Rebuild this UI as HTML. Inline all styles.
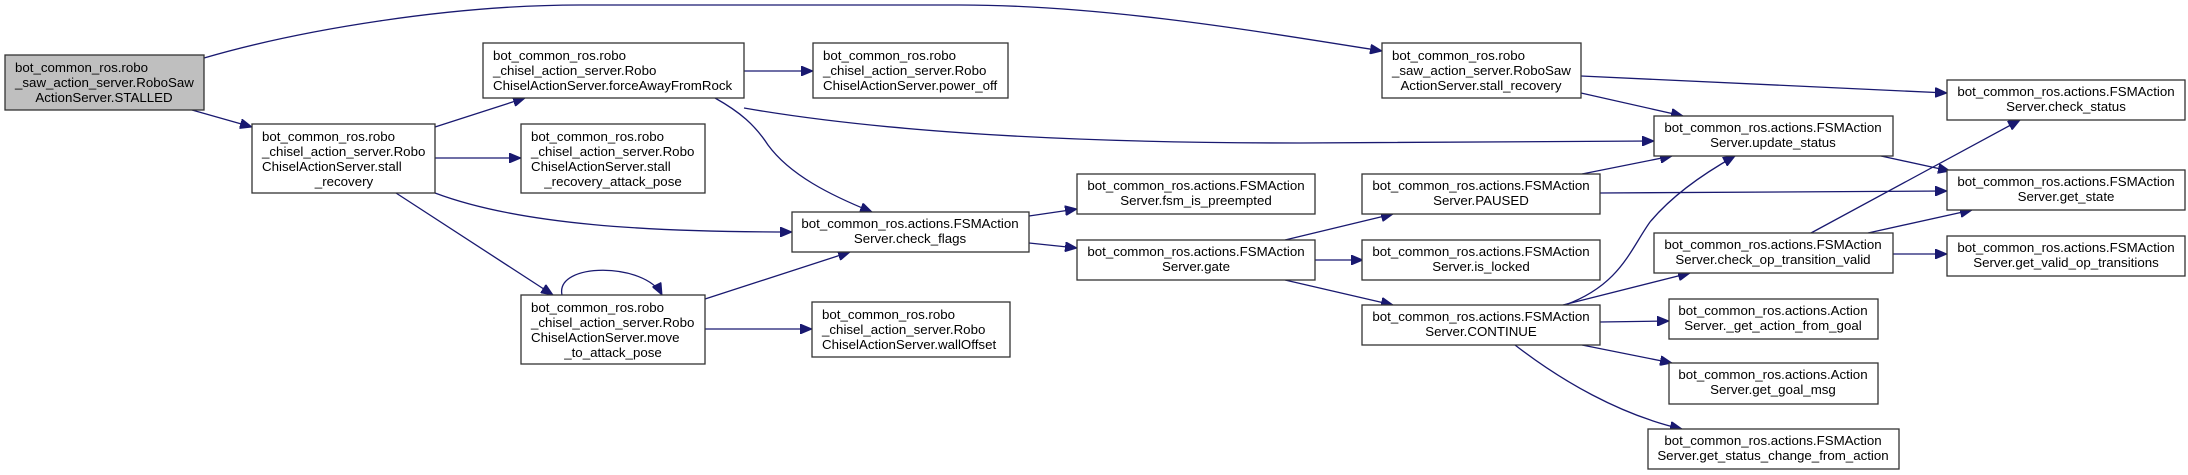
<!DOCTYPE html>
<html><head><meta charset="utf-8"><style>
html,body{margin:0;padding:0;background:#fff;}
svg{display:block;}
text{font-family:"Liberation Sans",sans-serif;font-size:13.3px;fill:#000;}
.n{fill:#fff;stroke:#333;stroke-width:1.3;}
.e{fill:none;stroke:#191970;stroke-width:1.3;}
</style></head><body>
<svg width="2188" height="475" viewBox="0 0 2188 475" xmlns="http://www.w3.org/2000/svg">
<defs><marker id="a" markerWidth="12" markerHeight="10" refX="12" refY="5" orient="auto" markerUnits="userSpaceOnUse"><path d="M0,0 L12,5 L0,10 z" fill="#191970" stroke="#191970"/></marker></defs>
<g class="edges">
<path class="e" marker-end="url(#a)" d="M192,110 L252,127"/>
<path class="e" marker-end="url(#a)" d="M204,58 C300,30 450,5 580,5 L960,5 C1100,5 1250,30 1382,51"/>
<path class="e" marker-end="url(#a)" d="M435,127 L525,98"/>
<path class="e" marker-end="url(#a)" d="M435,158 L521,158"/>
<path class="e" marker-end="url(#a)" d="M435,193 C520,225 650,232 792,232"/>
<path class="e" marker-end="url(#a)" d="M396,193 L553,295"/>
<path class="e" marker-end="url(#a)" d="M562,295 C555,262 645,262 662,295"/>
<path class="e" marker-end="url(#a)" d="M705,299 L850,252"/>
<path class="e" marker-end="url(#a)" d="M705,329 L812,329"/>
<path class="e" marker-end="url(#a)" d="M744,71 L813,71"/>
<path class="e" marker-end="url(#a)" d="M715,98 C740,112 755,125 768,145 C790,175 830,195 872,212"/>
<path class="e" marker-end="url(#a)" d="M744,108 C900,135 1100,143 1300,143 L1654,141"/>
<path class="e" marker-end="url(#a)" d="M1029,216 L1077,209"/>
<path class="e" marker-end="url(#a)" d="M1029,243 L1077,248"/>
<path class="e" marker-end="url(#a)" d="M1285,240 L1393,214"/>
<path class="e" marker-end="url(#a)" d="M1315,260 L1363,260"/>
<path class="e" marker-end="url(#a)" d="M1285,280 L1393,305"/>
<path class="e" marker-end="url(#a)" d="M1581,76 L1947,93"/>
<path class="e" marker-end="url(#a)" d="M1581,93 L1683,116"/>
<path class="e" marker-end="url(#a)" d="M1582,174 L1672,156"/>
<path class="e" marker-end="url(#a)" d="M1600,193 L1947,191"/>
<path class="e" marker-end="url(#a)" d="M1565,305 C1620,285 1630,250 1650,222 C1675,192 1710,170 1735,156"/>
<path class="e" marker-end="url(#a)" d="M1563,305 L1690,273"/>
<path class="e" marker-end="url(#a)" d="M1600,322 L1669,321"/>
<path class="e" marker-end="url(#a)" d="M1582,345 L1672,363"/>
<path class="e" marker-end="url(#a)" d="M1515,345 C1560,380 1620,415 1682,429"/>
<path class="e" marker-end="url(#a)" d="M1881,156 L1950,171"/>
<path class="e" marker-end="url(#a)" d="M1811,233 L2020,120"/>
<path class="e" marker-end="url(#a)" d="M1868,233 L1972,210"/>
<path class="e" marker-end="url(#a)" d="M1893,254 L1947,254"/>
</g>
<g>
<rect x="5" y="55" width="199" height="55" fill="#bfbfbf" stroke="#333" stroke-width="1.3"/>
<text x="15" y="72">bot_common_ros.robo</text><text x="15" y="87">_saw_action_server.RoboSaw</text><text x="104" y="102" text-anchor="middle">ActionServer.STALLED</text>

<rect class="n" x="252" y="124" width="183" height="69"/>
<text x="262" y="141">bot_common_ros.robo</text><text x="262" y="156">_chisel_action_server.Robo</text><text x="262" y="171">ChiselActionServer.stall</text><text x="344" y="186" text-anchor="middle">_recovery</text>

<rect class="n" x="483" y="43" width="261" height="55"/>
<text x="493" y="60">bot_common_ros.robo</text><text x="493" y="75">_chisel_action_server.Robo</text><text x="493" y="90">ChiselActionServer.forceAwayFromRock</text>

<rect class="n" x="521" y="124" width="184" height="69"/>
<text x="531" y="141">bot_common_ros.robo</text><text x="531" y="156">_chisel_action_server.Robo</text><text x="531" y="171">ChiselActionServer.stall</text><text x="613" y="186" text-anchor="middle">_recovery_attack_pose</text>

<rect class="n" x="521" y="295" width="184" height="69"/>
<text x="531" y="312">bot_common_ros.robo</text><text x="531" y="327">_chisel_action_server.Robo</text><text x="531" y="342">ChiselActionServer.move</text><text x="613" y="357" text-anchor="middle">_to_attack_pose</text>

<rect class="n" x="813" y="43" width="195" height="55"/>
<text x="823" y="60">bot_common_ros.robo</text><text x="823" y="75">_chisel_action_server.Robo</text><text x="823" y="90">ChiselActionServer.power_off</text>

<rect class="n" x="812" y="302" width="198" height="55"/>
<text x="822" y="319">bot_common_ros.robo</text><text x="822" y="334">_chisel_action_server.Robo</text><text x="822" y="349">ChiselActionServer.wallOffset</text>

<rect class="n" x="1382" y="43" width="199" height="55"/>
<text x="1392" y="60">bot_common_ros.robo</text><text x="1392" y="75">_saw_action_server.RoboSaw</text><text x="1481" y="90" text-anchor="middle">ActionServer.stall_recovery</text>

<rect class="n" x="792" y="212" width="237" height="40"/>
<text x="910" y="228" text-anchor="middle">bot_common_ros.actions.FSMAction</text><text x="910" y="243" text-anchor="middle">Server.check_flags</text>

<rect class="n" x="1077" y="174" width="238" height="40"/>
<text x="1196" y="190" text-anchor="middle">bot_common_ros.actions.FSMAction</text><text x="1196" y="205" text-anchor="middle">Server.fsm_is_preempted</text>

<rect class="n" x="1077" y="240" width="238" height="40"/>
<text x="1196" y="256" text-anchor="middle">bot_common_ros.actions.FSMAction</text><text x="1196" y="271" text-anchor="middle">Server.gate</text>

<rect class="n" x="1362" y="174" width="238" height="40"/>
<text x="1481" y="190" text-anchor="middle">bot_common_ros.actions.FSMAction</text><text x="1481" y="205" text-anchor="middle">Server.PAUSED</text>

<rect class="n" x="1362" y="240" width="238" height="40"/>
<text x="1481" y="256" text-anchor="middle">bot_common_ros.actions.FSMAction</text><text x="1481" y="271" text-anchor="middle">Server.is_locked</text>

<rect class="n" x="1362" y="305" width="238" height="40"/>
<text x="1481" y="321" text-anchor="middle">bot_common_ros.actions.FSMAction</text><text x="1481" y="336" text-anchor="middle">Server.CONTINUE</text>

<rect class="n" x="1654" y="116" width="239" height="40"/>
<text x="1773" y="132" text-anchor="middle">bot_common_ros.actions.FSMAction</text><text x="1773" y="147" text-anchor="middle">Server.update_status</text>

<rect class="n" x="1654" y="233" width="239" height="40"/>
<text x="1773" y="249" text-anchor="middle">bot_common_ros.actions.FSMAction</text><text x="1773" y="264" text-anchor="middle">Server.check_op_transition_valid</text>

<rect class="n" x="1669" y="299" width="209" height="40"/>
<text x="1773" y="315" text-anchor="middle">bot_common_ros.actions.Action</text><text x="1773" y="330" text-anchor="middle">Server._get_action_from_goal</text>

<rect class="n" x="1669" y="363" width="209" height="41"/>
<text x="1773" y="379" text-anchor="middle">bot_common_ros.actions.Action</text><text x="1773" y="394" text-anchor="middle">Server.get_goal_msg</text>

<rect class="n" x="1648" y="429" width="251" height="40"/>
<text x="1773" y="445" text-anchor="middle">bot_common_ros.actions.FSMAction</text><text x="1773" y="460" text-anchor="middle">Server.get_status_change_from_action</text>

<rect class="n" x="1947" y="80" width="238" height="40"/>
<text x="2066" y="96" text-anchor="middle">bot_common_ros.actions.FSMAction</text><text x="2066" y="111" text-anchor="middle">Server.check_status</text>

<rect class="n" x="1947" y="170" width="238" height="40"/>
<text x="2066" y="186" text-anchor="middle">bot_common_ros.actions.FSMAction</text><text x="2066" y="201" text-anchor="middle">Server.get_state</text>

<rect class="n" x="1947" y="236" width="238" height="40"/>
<text x="2066" y="252" text-anchor="middle">bot_common_ros.actions.FSMAction</text><text x="2066" y="267" text-anchor="middle">Server.get_valid_op_transitions</text>
</g>
</svg>
</body></html>
